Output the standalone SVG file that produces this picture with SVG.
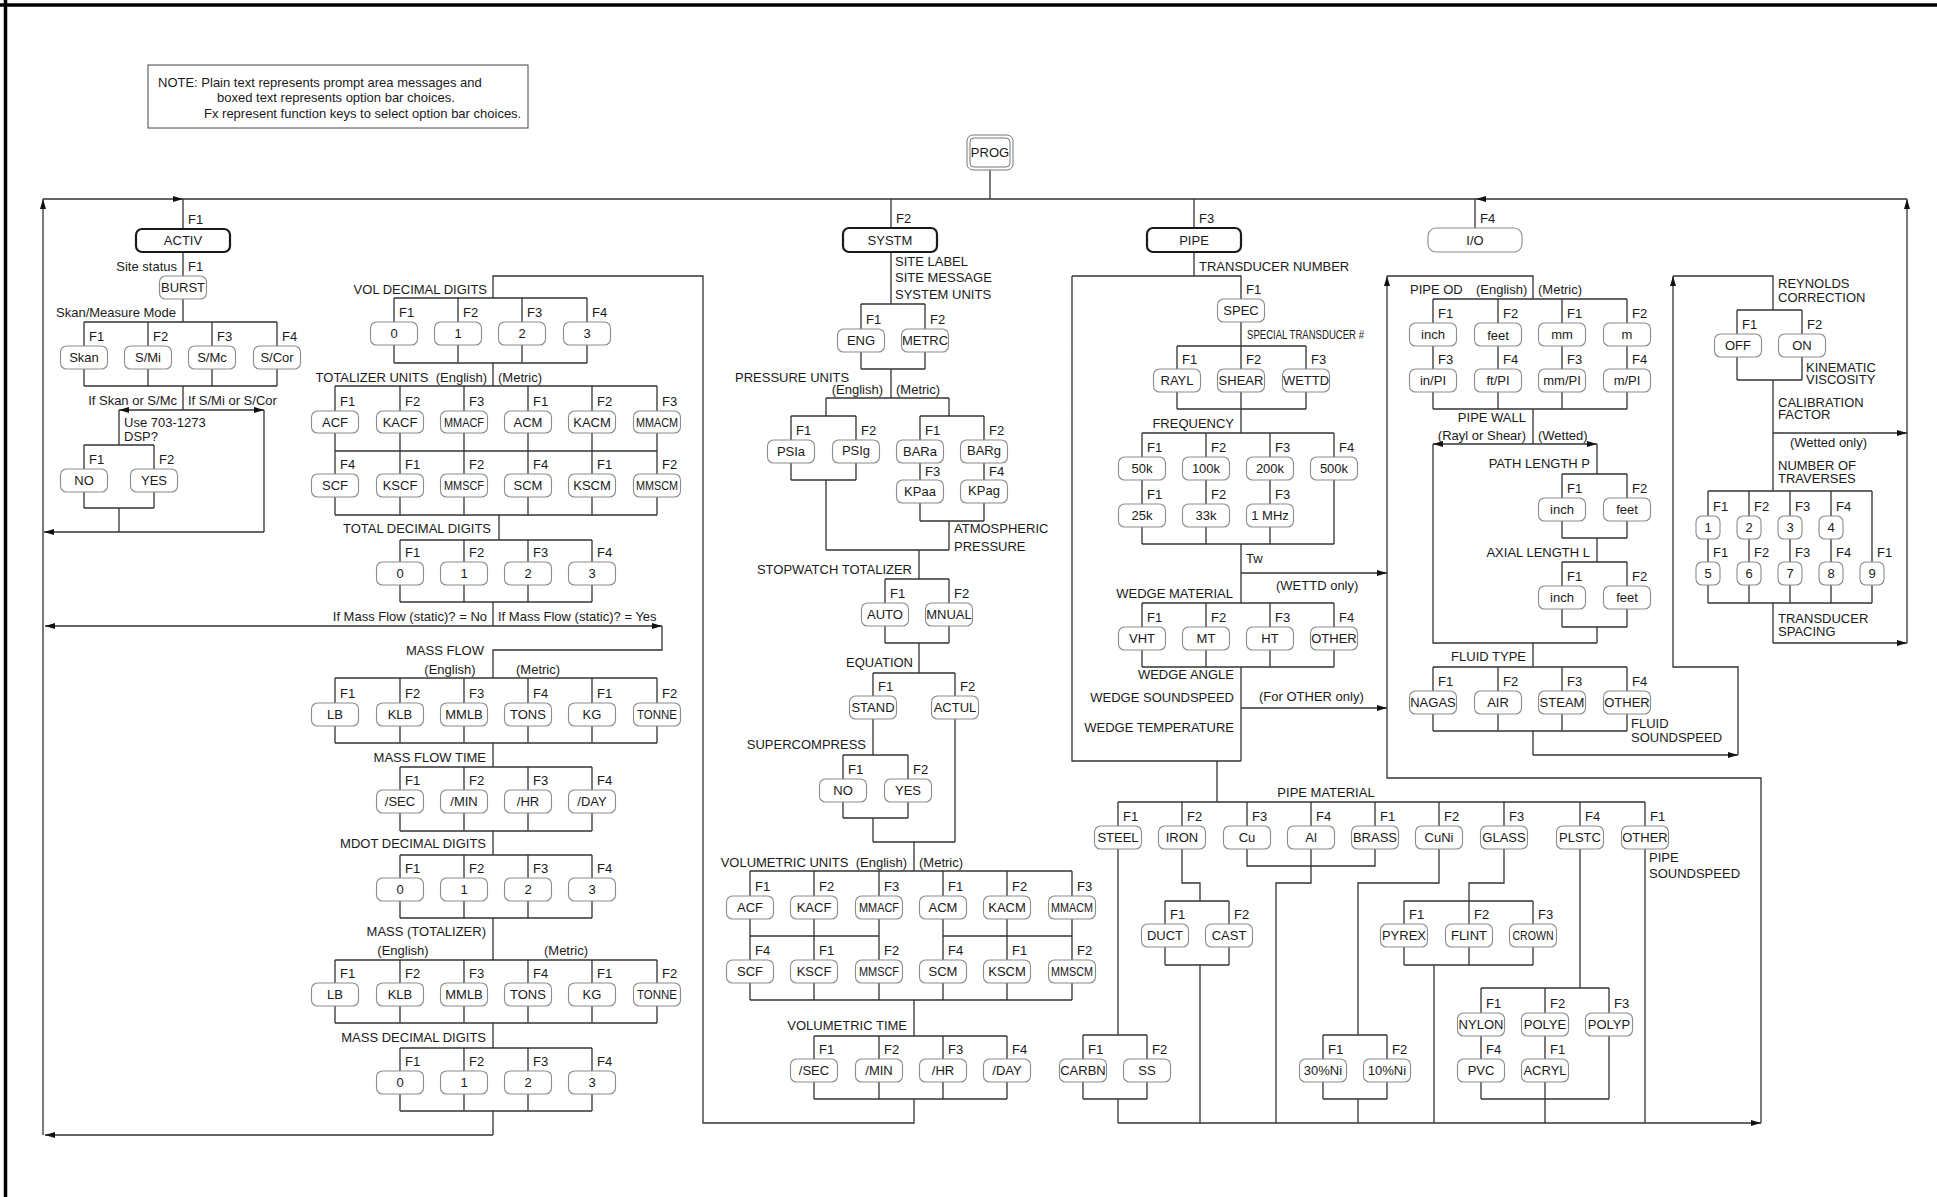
<svg xmlns="http://www.w3.org/2000/svg" width="1937" height="1197" viewBox="0 0 1937 1197">
<defs>
<marker id="ah" markerUnits="userSpaceOnUse" markerWidth="11" markerHeight="7" refX="10" refY="3.5" orient="auto"><path d="M0,0.5 L10,3.5 L0,6.5 z" fill="#111"/></marker>
<style>
text{font-family:"Liberation Sans",Arial,Helvetica,sans-serif;font-size:13px;fill:#1a1a1a}
.m{text-anchor:middle}
.e{text-anchor:end}
.ln{fill:none;stroke:#333;stroke-width:1.3}
.ar{fill:none;stroke:#333;stroke-width:1.3;marker-end:url(#ah)}
.o{fill:#fff;stroke:#8c8c8c;stroke-width:1.1}
.k{fill:#fff;stroke:#1a1a1a;stroke-width:2.2}
.fr{stroke:#000;stroke-width:3.5}
</style>
</defs>
<rect width="1937" height="1197" fill="#fff"/>
<line class="fr" x1="0" y1="5" x2="1937" y2="5"/>
<line class="fr" x1="5.5" y1="0" x2="5.5" y2="1197"/>

<g id="note">
<rect x="148" y="65" width="380" height="63" fill="#fff" stroke="#444" stroke-width="1"/>
<text x="158" y="87">NOTE: Plain text represents prompt area messages and</text>
<text x="217" y="102">boxed text represents option bar choices.</text>
<text x="204" y="118">Fx represent function keys to select option bar choices.</text>
</g>

<g id="connectors">
<path class="ar" d="M43,1135 V199"/>
<path class="ar" d="M43,199 H183"/>
<path class="ln" d="M183,199 H1476"/>
<path class="ar" d="M1907,199 H1476"/>
<path class="ar" d="M1907,643 V199"/>
<path class="ln" d="M183,199 V229 M891,199 V228 M1194,199 V228 M1475,199 V228 M990,170 V199"/>
<path class="ln" d="M183,252 V276 M183,299 V322 M84,322 H277 M84,322 V346 M148,322 V346 M212,322 V346 M277,322 V346 M84,369 V386 M148,369 V386 M212,369 V386 M277,369 V386 M84,386 H277 M183,386 V410"/>
<path class="ar" d="M183,410 H119"/>
<path class="ar" d="M183,410 H264"/>
<path class="ln" d="M119,410 V445 M84,445 H154 M84,445 V469 M154,445 V469 M84,492 V508 M154,492 V508 M84,508 H154 M119,508 V532 M264,410 V532"/>
<path class="ar" d="M264,532 H44"/>
<path class="ln" d="M914,1099 V1123 H703 V276 H493 V298 M394,298 H587 M394,298 V322 M458,298 V322 M522,298 V322 M587,298 V322 M394,345 V363 M458,345 V363 M522,345 V363 M587,345 V363 M394,363 H587 M493,363 V386"/>
<path class="ln" d="M335,386 H657 M335,386 V411 M400,386 V411 M464,386 V411 M528,386 V411 M592,386 V411 M657,386 V411 M335,433 V474 M400,433 V474 M464,433 V474 M528,433 V474 M592,433 V474 M657,433 V474 M335,451 H657 M335,497 V515 M400,497 V515 M464,497 V515 M528,497 V515 M592,497 V515 M657,497 V515 M335,515 H657 M499,515 V540"/>
<path class="ln" d="M400,540 H592 M400,540 V562 M464,540 V562 M528,540 V562 M592,540 V562 M400,585 V602 M464,585 V602 M528,585 V602 M592,585 V602 M400,602 H592 M493,602 V626"/>
<path class="ar" d="M493,626 H45"/>
<path class="ar" d="M493,626 H662"/>
<path class="ln" d="M662,626 V650 H493 V678 M335,678 H657 M335,678 V703 M400,678 V703 M464,678 V703 M528,678 V703 M592,678 V703 M657,678 V703 M335,726 V743 M400,726 V743 M464,726 V743 M528,726 V743 M592,726 V743 M657,726 V743 M335,743 H657 M493,743 V767"/>
<path class="ln" d="M400,767 H592 M400,767 V790 M464,767 V790 M528,767 V790 M592,767 V790 M400,813 V831 M464,813 V831 M528,813 V831 M592,813 V831 M400,831 H592 M493,831 V855"/>
<path class="ln" d="M400,855 H592 M400,855 V878 M464,855 V878 M528,855 V878 M592,855 V878 M400,901 V918 M464,901 V918 M528,901 V918 M592,901 V918 M400,918 H592 M493,918 V960"/>
<path class="ln" d="M335,960 H657 M335,960 V983 M400,960 V983 M464,960 V983 M528,960 V983 M592,960 V983 M657,960 V983 M335,1006 V1023 M400,1006 V1023 M464,1006 V1023 M528,1006 V1023 M592,1006 V1023 M657,1006 V1023 M335,1023 H657 M493,1023 V1048"/>
<path class="ln" d="M400,1048 H592 M400,1048 V1071 M464,1048 V1071 M528,1048 V1071 M592,1048 V1071 M400,1094 V1111 M464,1094 V1111 M528,1094 V1111 M592,1094 V1111 M400,1111 H592 M493,1111 V1135"/>
<path class="ar" d="M493,1135 H45"/>
<path class="ln" d="M891,252 V304 M861,304 H925 M861,304 V329 M925,304 V329 M861,352 V369 M925,352 V369 M861,369 H925 M891,369 V398 M826,398 H949 M826,398 V416 M949,398 V416 M791,416 H856 M920,416 H984 M791,416 V440 M856,416 V440 M920,416 V440 M984,416 V440"/>
<path class="ln" d="M791,463 V480 M856,463 V480 M791,480 H856 M826,480 V550 M920,463 V480 M984,463 V480 M920,503 V521 M984,503 V521 M920,521 H984 M949,521 V550 M826,550 H949 M919,550 V579"/>
<path class="ln" d="M885,579 H949 M885,579 V603 M949,579 V603 M885,626 V643 M949,626 V643 M885,643 H949 M919,643 V673 M873,673 H955 M873,673 V696 M955,673 V696 M873,719 V755 M843,755 H908 M843,755 V779 M908,755 V779 M843,802 V818 M908,802 V818 M843,818 H908 M873,818 V842 M955,719 V842 M873,842 H955 M914,842 V871"/>
<path class="ln" d="M750,871 H1072 M750,871 V896 M814,871 V896 M879,871 V896 M943,871 V896 M1007,871 V896 M1072,871 V896 M750,919 V960 M814,919 V960 M879,919 V960 M943,919 V960 M1007,919 V960 M1072,919 V960 M750,936 H879 M943,936 H1072 M750,983 V1000 M814,983 V1000 M879,983 V1000 M943,983 V1000 M1007,983 V1000 M1072,983 V1000 M750,1000 H1072 M914,1000 V1036"/>
<path class="ln" d="M814,1036 H1007 M814,1036 V1059 M879,1036 V1059 M943,1036 V1059 M1007,1036 V1059 M814,1082 V1099 M879,1082 V1099 M943,1082 V1099 M1007,1082 V1099 M814,1099 H1007"/>
<path class="ln" d="M1194,252 V276 M1072,276 H1241 V299 M1072,276 V761 H1241 M1241,322 V346 M1177,346 H1306 M1177,346 V369 M1241,346 V369 M1306,346 V369 M1177,392 V409 M1241,392 V409 M1306,392 V409 M1177,409 H1306 M1241,409 V433"/>
<path class="ln" d="M1142,433 H1334 M1142,433 V457 M1206,433 V457 M1270,433 V457 M1334,433 V457 M1142,480 V504 M1206,480 V504 M1270,480 V504 M1142,527 V544 M1206,527 V544 M1270,527 V544 M1334,480 V544 M1142,544 H1334 M1241,544 V603"/>
<path class="ar" d="M1241,573 H1387"/>
<path class="ln" d="M1142,603 H1334 M1142,603 V627 M1206,603 V627 M1270,603 V627 M1334,603 V627 M1142,650 V667 M1206,650 V667 M1270,650 V667 M1334,650 V667 M1142,667 H1334 M1241,667 V761"/>
<path class="ar" d="M1241,708 H1387"/>
<path class="ln" d="M1217,761 V802 M1118,802 H1645 M1118,802 V826 M1182,802 V826 M1247,802 V826 M1311,802 V826 M1375,802 V826 M1439,802 V826 M1504,802 V826 M1580,802 V826 M1645,802 V826"/>
<path class="ln" d="M1118,849 V1035 M1083,1035 H1147 M1083,1035 V1059 M1147,1035 V1059 M1083,1082 V1099 M1147,1082 V1099 M1083,1099 H1147 M1118,1099 V1123"/>
<path class="ln" d="M1182,849 V883 H1200 V901 M1165,901 H1229 M1165,901 V924 M1229,901 V924 M1165,947 V965 M1229,947 V965 M1165,965 H1229 M1200,965 V1123"/>
<path class="ln" d="M1247,849 V866 H1375 V849 M1311,849 V883 H1276 V1123"/>
<path class="ln" d="M1439,849 V883 H1358 V1035 M1323,1035 H1387 M1323,1035 V1059 M1387,1035 V1059 M1323,1082 V1099 M1387,1082 V1099 M1323,1099 H1387 M1358,1099 V1123"/>
<path class="ln" d="M1504,849 V883 H1469 V901 M1404,901 H1533 M1404,901 V924 M1469,901 V924 M1533,901 V924 M1404,947 V965 M1469,947 V965 M1533,947 V965 M1404,965 H1533 M1434,965 V1123"/>
<path class="ln" d="M1580,849 V988 M1481,988 H1609 M1481,988 V1013 M1545,988 V1013 M1609,988 V1013 M1481,1036 V1059 M1545,1036 V1059 M1481,1082 V1099 M1545,1082 V1099 M1609,1036 V1099 M1481,1099 H1609 M1545,1099 V1123 M1645,849 V1123"/>
<path class="ar" d="M1118,1123 H1761"/>
<path class="ar" d="M1761,1123 V778 H1387 V276"/>
<path class="ln" d="M1387,276 H1533 V299 M1433,299 H1627 M1433,299 V323 M1498,299 V323 M1562,299 V323 M1627,299 V323 M1433,346 V369 M1498,346 V369 M1562,346 V369 M1627,346 V369 M1433,392 V409 M1498,392 V409 M1562,392 V409 M1627,392 V409 M1433,409 H1627 M1533,409 V444"/>
<path class="ar" d="M1533,444 H1433"/>
<path class="ar" d="M1533,444 H1597"/>
<path class="ln" d="M1433,444 V643 H1597 M1597,444 V474 M1562,474 H1627 M1562,474 V498 M1627,474 V498 M1562,521 V538 M1627,521 V538 M1562,538 H1627 M1597,538 V562 M1562,562 H1627 M1562,562 V586 M1627,562 V586 M1562,609 V627 M1627,609 V627 M1562,627 H1627 M1597,627 V643"/>
<path class="ln" d="M1533,643 V667 M1433,667 H1627 M1433,667 V691 M1498,667 V691 M1562,667 V691 M1627,667 V691 M1433,714 V731 M1498,714 V731 M1562,714 V731 M1627,714 V731 M1433,731 H1627 M1533,731 V755"/>
<path class="ar" d="M1533,755 H1738"/>
<path class="ar" d="M1738,755 V667 H1673 V276"/>
<path class="ln" d="M1673,276 H1773 V310 M1737,310 H1802 M1737,310 V334 M1802,310 V334 M1737,357 V380 M1802,357 V380 M1737,380 H1802 M1773,380 V491"/>
<path class="ar" d="M1773,433 H1907"/>
<path class="ln" d="M1708,491 H1872 M1708,491 V516 M1749,491 V516 M1790,491 V516 M1831,491 V516 M1708,539 V562 M1749,539 V562 M1790,539 V562 M1831,539 V562 M1872,491 V562 M1708,585 V603 M1749,585 V603 M1790,585 V603 M1831,585 V603 M1872,585 V603 M1708,603 H1872 M1773,603 V643"/>
<path class="ar" d="M1773,643 H1907"/>
</g>

<g id="fkeys">
<text x="188" y="224">F1</text><text x="896" y="223">F2</text><text x="1199" y="223">F3</text><text x="1480" y="223">F4</text>
<text x="188" y="271">F1</text>
<text x="89" y="341">F1</text><text x="153" y="341">F2</text><text x="217" y="341">F3</text><text x="282" y="341">F4</text>
<text x="89" y="464">F1</text><text x="159" y="464">F2</text>
<text x="399" y="317">F1</text><text x="463" y="317">F2</text><text x="527" y="317">F3</text><text x="592" y="317">F4</text>
<text x="340" y="406">F1</text><text x="405" y="406">F2</text><text x="469" y="406">F3</text><text x="533" y="406">F1</text><text x="597" y="406">F2</text><text x="662" y="406">F3</text>
<text x="340" y="469">F4</text><text x="405" y="469">F1</text><text x="469" y="469">F2</text><text x="533" y="469">F4</text><text x="597" y="469">F1</text><text x="662" y="469">F2</text>
<text x="405" y="557">F1</text><text x="469" y="557">F2</text><text x="533" y="557">F3</text><text x="597" y="557">F4</text>
<text x="340" y="698">F1</text><text x="405" y="698">F2</text><text x="469" y="698">F3</text><text x="533" y="698">F4</text><text x="597" y="698">F1</text><text x="662" y="698">F2</text>
<text x="405" y="785">F1</text><text x="469" y="785">F2</text><text x="533" y="785">F3</text><text x="597" y="785">F4</text>
<text x="405" y="873">F1</text><text x="469" y="873">F2</text><text x="533" y="873">F3</text><text x="597" y="873">F4</text>
<text x="340" y="978">F1</text><text x="405" y="978">F2</text><text x="469" y="978">F3</text><text x="533" y="978">F4</text><text x="597" y="978">F1</text><text x="662" y="978">F2</text>
<text x="405" y="1066">F1</text><text x="469" y="1066">F2</text><text x="533" y="1066">F3</text><text x="597" y="1066">F4</text>
<text x="866" y="324">F1</text><text x="930" y="324">F2</text>
<text x="796" y="435">F1</text><text x="861" y="435">F2</text><text x="925" y="435">F1</text><text x="989" y="435">F2</text>
<text x="925" y="476">F3</text><text x="989" y="476">F4</text>
<text x="890" y="598">F1</text><text x="954" y="598">F2</text>
<text x="878" y="691">F1</text><text x="960" y="691">F2</text>
<text x="848" y="774">F1</text><text x="913" y="774">F2</text>
<text x="755" y="891">F1</text><text x="819" y="891">F2</text><text x="884" y="891">F3</text><text x="948" y="891">F1</text><text x="1012" y="891">F2</text><text x="1077" y="891">F3</text>
<text x="755" y="955">F4</text><text x="819" y="955">F1</text><text x="884" y="955">F2</text><text x="948" y="955">F4</text><text x="1012" y="955">F1</text><text x="1077" y="955">F2</text>
<text x="819" y="1054">F1</text><text x="884" y="1054">F2</text><text x="948" y="1054">F3</text><text x="1012" y="1054">F4</text>
<text x="1246" y="294">F1</text>
<text x="1182" y="364">F1</text><text x="1246" y="364">F2</text><text x="1311" y="364">F3</text>
<text x="1147" y="452">F1</text><text x="1211" y="452">F2</text><text x="1275" y="452">F3</text><text x="1339" y="452">F4</text>
<text x="1147" y="499">F1</text><text x="1211" y="499">F2</text><text x="1275" y="499">F3</text>
<text x="1147" y="622">F1</text><text x="1211" y="622">F2</text><text x="1275" y="622">F3</text><text x="1339" y="622">F4</text>
<text x="1123" y="821">F1</text><text x="1187" y="821">F2</text><text x="1252" y="821">F3</text><text x="1316" y="821">F4</text><text x="1380" y="821">F1</text><text x="1444" y="821">F2</text><text x="1509" y="821">F3</text><text x="1585" y="821">F4</text><text x="1650" y="821">F1</text>
<text x="1088" y="1054">F1</text><text x="1152" y="1054">F2</text>
<text x="1170" y="919">F1</text><text x="1234" y="919">F2</text>
<text x="1328" y="1054">F1</text><text x="1392" y="1054">F2</text>
<text x="1409" y="919">F1</text><text x="1474" y="919">F2</text><text x="1538" y="919">F3</text>
<text x="1486" y="1008">F1</text><text x="1550" y="1008">F2</text><text x="1614" y="1008">F3</text>
<text x="1486" y="1054">F4</text><text x="1550" y="1054">F1</text>
<text x="1438" y="318">F1</text><text x="1503" y="318">F2</text><text x="1567" y="318">F1</text><text x="1632" y="318">F2</text>
<text x="1438" y="364">F3</text><text x="1503" y="364">F4</text><text x="1567" y="364">F3</text><text x="1632" y="364">F4</text>
<text x="1567" y="493">F1</text><text x="1632" y="493">F2</text>
<text x="1567" y="581">F1</text><text x="1632" y="581">F2</text>
<text x="1438" y="686">F1</text><text x="1503" y="686">F2</text><text x="1567" y="686">F3</text><text x="1632" y="686">F4</text>
<text x="1742" y="329">F1</text><text x="1807" y="329">F2</text>
<text x="1713" y="511">F1</text><text x="1754" y="511">F2</text><text x="1795" y="511">F3</text><text x="1836" y="511">F4</text>
<text x="1713" y="557">F1</text><text x="1754" y="557">F2</text><text x="1795" y="557">F3</text><text x="1836" y="557">F4</text><text x="1877" y="557">F1</text>
</g>

<g id="prompts">
<text class="e" x="177" y="271">Site status</text>
<text class="e" x="176" y="317">Skan/Measure Mode</text>
<text class="e" x="177" y="405">If Skan or S/Mc</text>
<text x="188" y="405">If S/Mi or S/Cor</text>
<text x="124" y="427">Use 703-1273</text>
<text x="124" y="441">DSP?</text>
<text class="e" x="487" y="294">VOL DECIMAL DIGITS</text>
<text class="e" x="487" y="382">TOTALIZER UNITS&#160; (English)</text>
<text x="498" y="382">(Metric)</text>
<text class="e" x="491" y="533">TOTAL DECIMAL DIGITS</text>
<text class="e" x="487" y="621">If Mass Flow (static)? = No</text>
<text x="498" y="621">If Mass Flow (static)? = Yes</text>
<text class="e" x="484" y="655">MASS FLOW</text>
<text class="m" x="450" y="674">(English)</text>
<text x="516" y="674">(Metric)</text>
<text class="e" x="486" y="762">MASS FLOW TIME</text>
<text class="e" x="486" y="848">MDOT DECIMAL DIGITS</text>
<text class="e" x="486" y="936">MASS (TOTALIZER)</text>
<text class="m" x="403" y="955">(English)</text>
<text class="m" x="566" y="955">(Metric)</text>
<text class="e" x="486" y="1042">MASS DECIMAL DIGITS</text>
<text x="895" y="266">SITE LABEL</text>
<text x="895" y="282">SITE MESSAGE</text>
<text x="895" y="299">SYSTEM UNITS</text>
<text x="735" y="382">PRESSURE UNITS</text>
<text class="e" x="883" y="394">(English)</text>
<text x="896" y="394">(Metric)</text>
<text x="954" y="533">ATMOSPHERIC</text>
<text x="954" y="551">PRESSURE</text>
<text class="e" x="912" y="574">STOPWATCH TOTALIZER</text>
<text class="e" x="913" y="667">EQUATION</text>
<text class="e" x="866" y="749">SUPERCOMPRESS</text>
<text class="e" x="907" y="867">VOLUMETRIC UNITS&#160; (English)</text>
<text x="919" y="867">(Metric)</text>
<text class="e" x="907" y="1030">VOLUMETRIC TIME</text>
<text x="1199" y="271">TRANSDUCER NUMBER</text>
<text x="1247" y="339" font-size="12" textLength="117" lengthAdjust="spacingAndGlyphs">SPECIAL TRANSDUCER #</text>
<text class="e" x="1234" y="428">FREQUENCY</text>
<text x="1246" y="563">Tw</text>
<text x="1276" y="590">(WETTD only)</text>
<text class="e" x="1233" y="598">WEDGE MATERIAL</text>
<text class="e" x="1234" y="679">WEDGE ANGLE</text>
<text class="e" x="1234" y="702">WEDGE SOUNDSPEED</text>
<text class="e" x="1234" y="732">WEDGE TEMPERATURE</text>
<text x="1259" y="701">(For OTHER only)</text>
<text class="m" x="1326" y="797">PIPE MATERIAL</text>
<text x="1649" y="862">PIPE</text>
<text x="1649" y="878">SOUNDSPEED</text>
<text x="1410" y="294">PIPE OD</text>
<text x="1476" y="294">(English)</text>
<text x="1538" y="294">(Metric)</text>
<text class="e" x="1526" y="422">PIPE WALL</text>
<text class="e" x="1526" y="440">(Rayl or Shear)</text>
<text x="1538" y="440">(Wetted)</text>
<text class="e" x="1590" y="468">PATH LENGTH P</text>
<text class="e" x="1590" y="557">AXIAL LENGTH L</text>
<text class="e" x="1526" y="661">FLUID TYPE</text>
<text x="1631" y="728">FLUID</text>
<text x="1631" y="742">SOUNDSPEED</text>
<text x="1778" y="288">REYNOLDS</text>
<text x="1778" y="302">CORRECTION</text>
<text x="1806" y="372">KINEMATIC</text>
<text x="1806" y="384">VISCOSITY</text>
<text x="1778" y="407">CALIBRATION</text>
<text x="1778" y="419">FACTOR</text>
<text x="1790" y="447">(Wetted only)</text>
<text x="1778" y="470">NUMBER OF</text>
<text x="1778" y="483">TRAVERSES</text>
<text x="1778" y="623">TRANSDUCER</text>
<text x="1778" y="636">SPACING</text>
</g>

<g id="n-prog"><rect x="967" y="135" width="46" height="35" rx="6" fill="#fff" stroke="#777" stroke-width="1"/><rect x="970" y="138" width="40" height="29" rx="4" fill="none" stroke="#777" stroke-width="1"/><text class="m" x="990" y="157" font-size="12">PROG</text></g>
<g id="n-activ"><rect class="k" x="136" y="229" width="94" height="23" rx="6"/><text class="m" x="183" y="245">ACTIV</text></g>
<g id="n-systm"><rect class="k" x="843" y="228" width="94" height="24" rx="6"/><text class="m" x="890" y="245">SYSTM</text></g>
<g id="n-pipe"><rect class="k" x="1147" y="228" width="94" height="24" rx="6"/><text class="m" x="1194" y="245">PIPE</text></g>
<g id="n-io"><rect class="o" x="1428" y="228" width="94" height="24" rx="8"/><text class="m" x="1475" y="245">I/O</text></g>

<g id="n-burst"><rect class="o" x="159.5" y="276" width="47" height="23" rx="6"/><text class="m" x="183" y="292">BURST</text></g>
<g id="n-skan"><rect class="o" x="60.5" y="346" width="47" height="23" rx="6"/><text class="m" x="84" y="362">Skan</text></g>
<g id="n-smi"><rect class="o" x="124.5" y="346" width="47" height="23" rx="6"/><text class="m" x="148" y="362">S/Mi</text></g>
<g id="n-smc"><rect class="o" x="188.5" y="346" width="47" height="23" rx="6"/><text class="m" x="212" y="362">S/Mc</text></g>
<g id="n-scor"><rect class="o" x="253.5" y="346" width="47" height="23" rx="6"/><text class="m" x="277" y="362">S/Cor</text></g>
<g id="n-dsp-no"><rect class="o" x="60.5" y="469" width="47" height="23" rx="6"/><text class="m" x="84" y="485">NO</text></g>
<g id="n-dsp-yes"><rect class="o" x="130.5" y="469" width="47" height="23" rx="6"/><text class="m" x="154" y="485">YES</text></g>

<g id="n-vd0"><rect class="o" x="370.5" y="322" width="47" height="23" rx="6"/><text class="m" x="394" y="338">0</text></g>
<g id="n-vd1"><rect class="o" x="434.5" y="322" width="47" height="23" rx="6"/><text class="m" x="458" y="338">1</text></g>
<g id="n-vd2"><rect class="o" x="498.5" y="322" width="47" height="23" rx="6"/><text class="m" x="522" y="338">2</text></g>
<g id="n-vd3"><rect class="o" x="563.5" y="322" width="47" height="23" rx="6"/><text class="m" x="587" y="338">3</text></g>

<g id="n-tu-acf"><rect class="o" x="311.5" y="411" width="47" height="22" rx="6"/><text class="m" x="335" y="427">ACF</text></g>
<g id="n-tu-kacf"><rect class="o" x="376.5" y="411" width="47" height="22" rx="6"/><text class="m" x="400" y="427">KACF</text></g>
<g id="n-tu-mmacf"><rect class="o" x="440.5" y="411" width="47" height="22" rx="6"/><text class="m" x="464" y="427" textLength="40" lengthAdjust="spacingAndGlyphs">MMACF</text></g>
<g id="n-tu-acm"><rect class="o" x="504.5" y="411" width="47" height="22" rx="6"/><text class="m" x="528" y="427">ACM</text></g>
<g id="n-tu-kacm"><rect class="o" x="568.5" y="411" width="47" height="22" rx="6"/><text class="m" x="592" y="427">KACM</text></g>
<g id="n-tu-mmacm"><rect class="o" x="633.5" y="411" width="47" height="22" rx="6"/><text class="m" x="657" y="427" textLength="42" lengthAdjust="spacingAndGlyphs">MMACM</text></g>
<g id="n-tu-scf"><rect class="o" x="311.5" y="474" width="47" height="23" rx="6"/><text class="m" x="335" y="490">SCF</text></g>
<g id="n-tu-kscf"><rect class="o" x="376.5" y="474" width="47" height="23" rx="6"/><text class="m" x="400" y="490">KSCF</text></g>
<g id="n-tu-mmscf"><rect class="o" x="440.5" y="474" width="47" height="23" rx="6"/><text class="m" x="464" y="490" textLength="40" lengthAdjust="spacingAndGlyphs">MMSCF</text></g>
<g id="n-tu-scm"><rect class="o" x="504.5" y="474" width="47" height="23" rx="6"/><text class="m" x="528" y="490">SCM</text></g>
<g id="n-tu-kscm"><rect class="o" x="568.5" y="474" width="47" height="23" rx="6"/><text class="m" x="592" y="490">KSCM</text></g>
<g id="n-tu-mmscm"><rect class="o" x="633.5" y="474" width="47" height="23" rx="6"/><text class="m" x="657" y="490" textLength="42" lengthAdjust="spacingAndGlyphs">MMSCM</text></g>

<g id="n-td0"><rect class="o" x="376.5" y="562" width="47" height="23" rx="6"/><text class="m" x="400" y="578">0</text></g>
<g id="n-td1"><rect class="o" x="440.5" y="562" width="47" height="23" rx="6"/><text class="m" x="464" y="578">1</text></g>
<g id="n-td2"><rect class="o" x="504.5" y="562" width="47" height="23" rx="6"/><text class="m" x="528" y="578">2</text></g>
<g id="n-td3"><rect class="o" x="568.5" y="562" width="47" height="23" rx="6"/><text class="m" x="592" y="578">3</text></g>

<g id="n-mf-lb"><rect class="o" x="311.5" y="703" width="47" height="23" rx="6"/><text class="m" x="335" y="719">LB</text></g>
<g id="n-mf-klb"><rect class="o" x="376.5" y="703" width="47" height="23" rx="6"/><text class="m" x="400" y="719">KLB</text></g>
<g id="n-mf-mmlb"><rect class="o" x="440.5" y="703" width="47" height="23" rx="6"/><text class="m" x="464" y="719">MMLB</text></g>
<g id="n-mf-tons"><rect class="o" x="504.5" y="703" width="47" height="23" rx="6"/><text class="m" x="528" y="719">TONS</text></g>
<g id="n-mf-kg"><rect class="o" x="568.5" y="703" width="47" height="23" rx="6"/><text class="m" x="592" y="719">KG</text></g>
<g id="n-mf-tonne"><rect class="o" x="633.5" y="703" width="47" height="23" rx="6"/><text class="m" x="657" y="719" textLength="40" lengthAdjust="spacingAndGlyphs">TONNE</text></g>

<g id="n-mft-sec"><rect class="o" x="376.5" y="790" width="47" height="23" rx="6"/><text class="m" x="400" y="806">/SEC</text></g>
<g id="n-mft-min"><rect class="o" x="440.5" y="790" width="47" height="23" rx="6"/><text class="m" x="464" y="806">/MIN</text></g>
<g id="n-mft-hr"><rect class="o" x="504.5" y="790" width="47" height="23" rx="6"/><text class="m" x="528" y="806">/HR</text></g>
<g id="n-mft-day"><rect class="o" x="568.5" y="790" width="47" height="23" rx="6"/><text class="m" x="592" y="806">/DAY</text></g>

<g id="n-md0"><rect class="o" x="376.5" y="878" width="47" height="23" rx="6"/><text class="m" x="400" y="894">0</text></g>
<g id="n-md1"><rect class="o" x="440.5" y="878" width="47" height="23" rx="6"/><text class="m" x="464" y="894">1</text></g>
<g id="n-md2"><rect class="o" x="504.5" y="878" width="47" height="23" rx="6"/><text class="m" x="528" y="894">2</text></g>
<g id="n-md3"><rect class="o" x="568.5" y="878" width="47" height="23" rx="6"/><text class="m" x="592" y="894">3</text></g>

<g id="n-mt-lb"><rect class="o" x="311.5" y="983" width="47" height="23" rx="6"/><text class="m" x="335" y="999">LB</text></g>
<g id="n-mt-klb"><rect class="o" x="376.5" y="983" width="47" height="23" rx="6"/><text class="m" x="400" y="999">KLB</text></g>
<g id="n-mt-mmlb"><rect class="o" x="440.5" y="983" width="47" height="23" rx="6"/><text class="m" x="464" y="999">MMLB</text></g>
<g id="n-mt-tons"><rect class="o" x="504.5" y="983" width="47" height="23" rx="6"/><text class="m" x="528" y="999">TONS</text></g>
<g id="n-mt-kg"><rect class="o" x="568.5" y="983" width="47" height="23" rx="6"/><text class="m" x="592" y="999">KG</text></g>
<g id="n-mt-tonne"><rect class="o" x="633.5" y="983" width="47" height="23" rx="6"/><text class="m" x="657" y="999" textLength="40" lengthAdjust="spacingAndGlyphs">TONNE</text></g>

<g id="n-mdd0"><rect class="o" x="376.5" y="1071" width="47" height="23" rx="6"/><text class="m" x="400" y="1087">0</text></g>
<g id="n-mdd1"><rect class="o" x="440.5" y="1071" width="47" height="23" rx="6"/><text class="m" x="464" y="1087">1</text></g>
<g id="n-mdd2"><rect class="o" x="504.5" y="1071" width="47" height="23" rx="6"/><text class="m" x="528" y="1087">2</text></g>
<g id="n-mdd3"><rect class="o" x="568.5" y="1071" width="47" height="23" rx="6"/><text class="m" x="592" y="1087">3</text></g>

<g id="n-eng"><rect class="o" x="837.5" y="329" width="47" height="23" rx="6"/><text class="m" x="861" y="345">ENG</text></g>
<g id="n-metrc"><rect class="o" x="901.5" y="329" width="47" height="23" rx="6"/><text class="m" x="925" y="345">METRC</text></g>
<g id="n-psia"><rect class="o" x="767.5" y="440" width="47" height="23" rx="6"/><text class="m" x="791" y="456">PSIa</text></g>
<g id="n-psig"><rect class="o" x="832.5" y="440" width="47" height="23" rx="6"/><text class="m" x="856" y="455">PSIg</text></g>
<g id="n-bara"><rect class="o" x="896.5" y="440" width="47" height="23" rx="6"/><text class="m" x="920" y="456">BARa</text></g>
<g id="n-barg"><rect class="o" x="960.5" y="440" width="47" height="23" rx="6"/><text class="m" x="984" y="455">BARg</text></g>
<g id="n-kpaa"><rect class="o" x="896.5" y="480" width="47" height="23" rx="6"/><text class="m" x="920" y="496">KPaa</text></g>
<g id="n-kpag"><rect class="o" x="960.5" y="480" width="47" height="23" rx="6"/><text class="m" x="984" y="495">KPag</text></g>
<g id="n-auto"><rect class="o" x="861.5" y="603" width="47" height="23" rx="6"/><text class="m" x="885" y="619">AUTO</text></g>
<g id="n-mnual"><rect class="o" x="925.5" y="603" width="47" height="23" rx="6"/><text class="m" x="949" y="619">MNUAL</text></g>
<g id="n-stand"><rect class="o" x="849.5" y="696" width="47" height="23" rx="6"/><text class="m" x="873" y="712">STAND</text></g>
<g id="n-actul"><rect class="o" x="931.5" y="696" width="47" height="23" rx="6"/><text class="m" x="955" y="712">ACTUL</text></g>
<g id="n-sc-no"><rect class="o" x="819.5" y="779" width="47" height="23" rx="6"/><text class="m" x="843" y="795">NO</text></g>
<g id="n-sc-yes"><rect class="o" x="884.5" y="779" width="47" height="23" rx="6"/><text class="m" x="908" y="795">YES</text></g>

<g id="n-vu-acf"><rect class="o" x="726.5" y="896" width="47" height="23" rx="6"/><text class="m" x="750" y="912">ACF</text></g>
<g id="n-vu-kacf"><rect class="o" x="790.5" y="896" width="47" height="23" rx="6"/><text class="m" x="814" y="912">KACF</text></g>
<g id="n-vu-mmacf"><rect class="o" x="855.5" y="896" width="47" height="23" rx="6"/><text class="m" x="879" y="912" textLength="40" lengthAdjust="spacingAndGlyphs">MMACF</text></g>
<g id="n-vu-acm"><rect class="o" x="919.5" y="896" width="47" height="23" rx="6"/><text class="m" x="943" y="912">ACM</text></g>
<g id="n-vu-kacm"><rect class="o" x="983.5" y="896" width="47" height="23" rx="6"/><text class="m" x="1007" y="912">KACM</text></g>
<g id="n-vu-mmacm"><rect class="o" x="1048.5" y="896" width="47" height="23" rx="6"/><text class="m" x="1072" y="912" textLength="42" lengthAdjust="spacingAndGlyphs">MMACM</text></g>
<g id="n-vu-scf"><rect class="o" x="726.5" y="960" width="47" height="23" rx="6"/><text class="m" x="750" y="976">SCF</text></g>
<g id="n-vu-kscf"><rect class="o" x="790.5" y="960" width="47" height="23" rx="6"/><text class="m" x="814" y="976">KSCF</text></g>
<g id="n-vu-mmscf"><rect class="o" x="855.5" y="960" width="47" height="23" rx="6"/><text class="m" x="879" y="976" textLength="40" lengthAdjust="spacingAndGlyphs">MMSCF</text></g>
<g id="n-vu-scm"><rect class="o" x="919.5" y="960" width="47" height="23" rx="6"/><text class="m" x="943" y="976">SCM</text></g>
<g id="n-vu-kscm"><rect class="o" x="983.5" y="960" width="47" height="23" rx="6"/><text class="m" x="1007" y="976">KSCM</text></g>
<g id="n-vu-mmscm"><rect class="o" x="1048.5" y="960" width="47" height="23" rx="6"/><text class="m" x="1072" y="976" textLength="42" lengthAdjust="spacingAndGlyphs">MMSCM</text></g>

<g id="n-vt-sec"><rect class="o" x="790.5" y="1059" width="47" height="23" rx="6"/><text class="m" x="814" y="1075">/SEC</text></g>
<g id="n-vt-min"><rect class="o" x="855.5" y="1059" width="47" height="23" rx="6"/><text class="m" x="879" y="1075">/MIN</text></g>
<g id="n-vt-hr"><rect class="o" x="919.5" y="1059" width="47" height="23" rx="6"/><text class="m" x="943" y="1075">/HR</text></g>
<g id="n-vt-day"><rect class="o" x="983.5" y="1059" width="47" height="23" rx="6"/><text class="m" x="1007" y="1075">/DAY</text></g>

<g id="n-spec"><rect class="o" x="1217.5" y="299" width="47" height="23" rx="6"/><text class="m" x="1241" y="315">SPEC</text></g>
<g id="n-rayl"><rect class="o" x="1153.5" y="369" width="47" height="23" rx="6"/><text class="m" x="1177" y="385">RAYL</text></g>
<g id="n-shear"><rect class="o" x="1217.5" y="369" width="47" height="23" rx="6"/><text class="m" x="1241" y="385">SHEAR</text></g>
<g id="n-wettd"><rect class="o" x="1282.5" y="369" width="47" height="23" rx="6"/><text class="m" x="1306" y="385">WETTD</text></g>
<g id="n-50k"><rect class="o" x="1118.5" y="457" width="47" height="23" rx="6"/><text class="m" x="1142" y="473">50k</text></g>
<g id="n-100k"><rect class="o" x="1182.5" y="457" width="47" height="23" rx="6"/><text class="m" x="1206" y="473">100k</text></g>
<g id="n-200k"><rect class="o" x="1246.5" y="457" width="47" height="23" rx="6"/><text class="m" x="1270" y="473">200k</text></g>
<g id="n-500k"><rect class="o" x="1310.5" y="457" width="47" height="23" rx="6"/><text class="m" x="1334" y="473">500k</text></g>
<g id="n-25k"><rect class="o" x="1118.5" y="504" width="47" height="23" rx="6"/><text class="m" x="1142" y="520">25k</text></g>
<g id="n-33k"><rect class="o" x="1182.5" y="504" width="47" height="23" rx="6"/><text class="m" x="1206" y="520">33k</text></g>
<g id="n-1mhz"><rect class="o" x="1246.5" y="504" width="47" height="23" rx="6"/><text class="m" x="1270" y="520">1 MHz</text></g>
<g id="n-vht"><rect class="o" x="1118.5" y="627" width="47" height="23" rx="6"/><text class="m" x="1142" y="643">VHT</text></g>
<g id="n-mt"><rect class="o" x="1182.5" y="627" width="47" height="23" rx="6"/><text class="m" x="1206" y="643">MT</text></g>
<g id="n-ht"><rect class="o" x="1246.5" y="627" width="47" height="23" rx="6"/><text class="m" x="1270" y="643">HT</text></g>
<g id="n-wedge-other"><rect class="o" x="1310.5" y="627" width="47" height="23" rx="6"/><text class="m" x="1334" y="643">OTHER</text></g>

<g id="n-steel"><rect class="o" x="1094.5" y="826" width="47" height="23" rx="6"/><text class="m" x="1118" y="842">STEEL</text></g>
<g id="n-iron"><rect class="o" x="1158.5" y="826" width="47" height="23" rx="6"/><text class="m" x="1182" y="842">IRON</text></g>
<g id="n-cu"><rect class="o" x="1223.5" y="826" width="47" height="23" rx="6"/><text class="m" x="1247" y="842">Cu</text></g>
<g id="n-al"><rect class="o" x="1287.5" y="826" width="47" height="23" rx="6"/><text class="m" x="1311" y="842">Al</text></g>
<g id="n-brass"><rect class="o" x="1351.5" y="826" width="47" height="23" rx="6"/><text class="m" x="1375" y="842">BRASS</text></g>
<g id="n-cuni"><rect class="o" x="1415.5" y="826" width="47" height="23" rx="6"/><text class="m" x="1439" y="842">CuNi</text></g>
<g id="n-glass"><rect class="o" x="1480.5" y="826" width="47" height="23" rx="6"/><text class="m" x="1504" y="842">GLASS</text></g>
<g id="n-plstc"><rect class="o" x="1556.5" y="826" width="47" height="23" rx="6"/><text class="m" x="1580" y="842">PLSTC</text></g>
<g id="n-pm-other"><rect class="o" x="1621.5" y="826" width="47" height="23" rx="6"/><text class="m" x="1645" y="842">OTHER</text></g>
<g id="n-carbn"><rect class="o" x="1059.5" y="1059" width="47" height="23" rx="6"/><text class="m" x="1083" y="1075">CARBN</text></g>
<g id="n-ss"><rect class="o" x="1123.5" y="1059" width="47" height="23" rx="6"/><text class="m" x="1147" y="1075">SS</text></g>
<g id="n-duct"><rect class="o" x="1141.5" y="924" width="47" height="23" rx="6"/><text class="m" x="1165" y="940">DUCT</text></g>
<g id="n-cast"><rect class="o" x="1205.5" y="924" width="47" height="23" rx="6"/><text class="m" x="1229" y="940">CAST</text></g>
<g id="n-30ni"><rect class="o" x="1299.5" y="1059" width="47" height="23" rx="6"/><text class="m" x="1323" y="1075">30%Ni</text></g>
<g id="n-10ni"><rect class="o" x="1363.5" y="1059" width="47" height="23" rx="6"/><text class="m" x="1387" y="1075">10%Ni</text></g>
<g id="n-pyrex"><rect class="o" x="1380.5" y="924" width="47" height="23" rx="6"/><text class="m" x="1404" y="940">PYREX</text></g>
<g id="n-flint"><rect class="o" x="1445.5" y="924" width="47" height="23" rx="6"/><text class="m" x="1469" y="940">FLINT</text></g>
<g id="n-crown"><rect class="o" x="1509.5" y="924" width="47" height="23" rx="6"/><text class="m" x="1533" y="940" textLength="41" lengthAdjust="spacingAndGlyphs">CROWN</text></g>
<g id="n-nylon"><rect class="o" x="1457.5" y="1013" width="47" height="23" rx="6"/><text class="m" x="1481" y="1029">NYLON</text></g>
<g id="n-polye"><rect class="o" x="1521.5" y="1013" width="47" height="23" rx="6"/><text class="m" x="1545" y="1029">POLYE</text></g>
<g id="n-polyp"><rect class="o" x="1585.5" y="1013" width="47" height="23" rx="6"/><text class="m" x="1609" y="1029">POLYP</text></g>
<g id="n-pvc"><rect class="o" x="1457.5" y="1059" width="47" height="23" rx="6"/><text class="m" x="1481" y="1075">PVC</text></g>
<g id="n-acryl"><rect class="o" x="1521.5" y="1059" width="47" height="23" rx="6"/><text class="m" x="1545" y="1075">ACRYL</text></g>

<g id="n-od-inch"><rect class="o" x="1409.5" y="323" width="47" height="23" rx="6"/><text class="m" x="1433" y="339">inch</text></g>
<g id="n-od-feet"><rect class="o" x="1474.5" y="323" width="47" height="23" rx="6"/><text class="m" x="1498" y="340">feet</text></g>
<g id="n-od-mm"><rect class="o" x="1538.5" y="323" width="47" height="23" rx="6"/><text class="m" x="1562" y="339">mm</text></g>
<g id="n-od-m"><rect class="o" x="1603.5" y="323" width="47" height="23" rx="6"/><text class="m" x="1627" y="339">m</text></g>
<g id="n-od-inpi"><rect class="o" x="1409.5" y="369" width="47" height="23" rx="6"/><text class="m" x="1433" y="385">in/PI</text></g>
<g id="n-od-ftpi"><rect class="o" x="1474.5" y="369" width="47" height="23" rx="6"/><text class="m" x="1498" y="385">ft/PI</text></g>
<g id="n-od-mmpi"><rect class="o" x="1538.5" y="369" width="47" height="23" rx="6"/><text class="m" x="1562" y="385">mm/PI</text></g>
<g id="n-od-mpi"><rect class="o" x="1603.5" y="369" width="47" height="23" rx="6"/><text class="m" x="1627" y="385">m/PI</text></g>
<g id="n-pl-inch"><rect class="o" x="1538.5" y="498" width="47" height="23" rx="6"/><text class="m" x="1562" y="514">inch</text></g>
<g id="n-pl-feet"><rect class="o" x="1603.5" y="498" width="47" height="23" rx="6"/><text class="m" x="1627" y="514">feet</text></g>
<g id="n-al-inch"><rect class="o" x="1538.5" y="586" width="47" height="23" rx="6"/><text class="m" x="1562" y="602">inch</text></g>
<g id="n-al-feet"><rect class="o" x="1603.5" y="586" width="47" height="23" rx="6"/><text class="m" x="1627" y="602">feet</text></g>
<g id="n-nagas"><rect class="o" x="1409.5" y="691" width="47" height="23" rx="6"/><text class="m" x="1433" y="707">NAGAS</text></g>
<g id="n-air"><rect class="o" x="1474.5" y="691" width="47" height="23" rx="6"/><text class="m" x="1498" y="707">AIR</text></g>
<g id="n-steam"><rect class="o" x="1538.5" y="691" width="47" height="23" rx="6"/><text class="m" x="1562" y="707">STEAM</text></g>
<g id="n-fluid-other"><rect class="o" x="1603.5" y="691" width="47" height="23" rx="6"/><text class="m" x="1627" y="707">OTHER</text></g>

<g id="n-off"><rect class="o" x="1714.5" y="334" width="47" height="23" rx="6"/><text class="m" x="1738" y="350">OFF</text></g>
<g id="n-on"><rect class="o" x="1778.5" y="334" width="47" height="23" rx="6"/><text class="m" x="1802" y="350">ON</text></g>
<g id="n-t1"><rect class="o" x="1696" y="516" width="24" height="23" rx="6"/><text class="m" x="1708" y="532">1</text></g>
<g id="n-t2"><rect class="o" x="1737" y="516" width="24" height="23" rx="6"/><text class="m" x="1749" y="532">2</text></g>
<g id="n-t3"><rect class="o" x="1778" y="516" width="24" height="23" rx="6"/><text class="m" x="1790" y="532">3</text></g>
<g id="n-t4"><rect class="o" x="1819" y="516" width="24" height="23" rx="6"/><text class="m" x="1831" y="532">4</text></g>
<g id="n-t5"><rect class="o" x="1696" y="562" width="24" height="23" rx="6"/><text class="m" x="1708" y="578">5</text></g>
<g id="n-t6"><rect class="o" x="1737" y="562" width="24" height="23" rx="6"/><text class="m" x="1749" y="578">6</text></g>
<g id="n-t7"><rect class="o" x="1778" y="562" width="24" height="23" rx="6"/><text class="m" x="1790" y="578">7</text></g>
<g id="n-t8"><rect class="o" x="1819" y="562" width="24" height="23" rx="6"/><text class="m" x="1831" y="578">8</text></g>
<g id="n-t9"><rect class="o" x="1860" y="562" width="24" height="23" rx="6"/><text class="m" x="1872" y="578">9</text></g>
</svg>
